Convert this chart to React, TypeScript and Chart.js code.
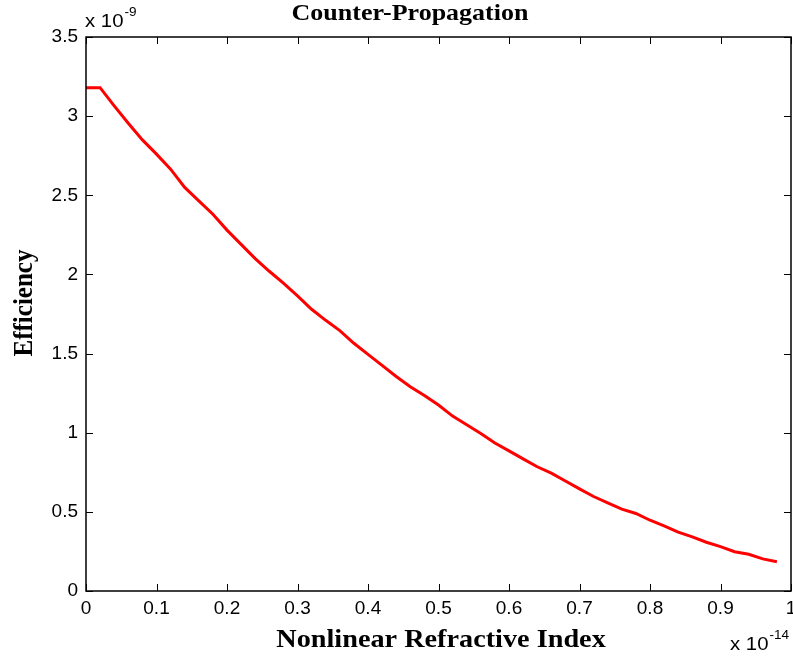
import React, { useEffect, useRef } from 'react';
import { Chart, registerables } from 'chart.js';

Chart.register(...registerables);

// x in units of 1e-14, efficiency in units of 1e-9
const nonlinearIndex = [
  0, 0.02, 0.04, 0.06, 0.08, 0.1, 0.12, 0.14, 0.16, 0.18,
  0.2, 0.22, 0.24, 0.26, 0.28, 0.3, 0.32, 0.34, 0.36, 0.38,
  0.4, 0.42, 0.44, 0.46, 0.48, 0.5, 0.52, 0.54, 0.56, 0.58,
  0.6, 0.62, 0.64, 0.66, 0.68, 0.7, 0.72, 0.74, 0.76, 0.78,
  0.8, 0.82, 0.84, 0.86, 0.88, 0.9, 0.92, 0.94, 0.96, 0.98,
];
const efficiency = [
  3.18, 3.18, 3.065, 2.955, 2.85, 2.76, 2.665, 2.55, 2.465, 2.38,
  2.28, 2.19, 2.1, 2.02, 1.945, 1.865, 1.78, 1.71, 1.645, 1.565,
  1.495, 1.425, 1.355, 1.29, 1.235, 1.175, 1.105, 1.05, 0.995, 0.935,
  0.885, 0.835, 0.785, 0.745, 0.695, 0.645, 0.597, 0.557, 0.517, 0.49,
  0.447, 0.412, 0.372, 0.342, 0.308, 0.28, 0.248, 0.232, 0.203, 0.185,
];

const xRange = [0, 1];
const xStep = 0.1;
const yRange = [0, 3.5];
const yStep = 0.5;

const titleText = 'Counter-Propagation';
const xTitle = 'Nonlinear Refractive Index';
const yTitle = 'Efficiency';
const xExponent = '-14';
const yExponent = '-9';

const STRETCH = 1.13;
const SERIF = '"Liberation Serif", "Times New Roman", serif';
const SANS = '"Liberation Sans", Arial, sans-serif';

function fmt(v: number) {
  return String(Math.round(v * 100) / 100);
}

function drawStretched(ctx: CanvasRenderingContext2D, text: string, x: number, y: number, align: CanvasTextAlign, rot = 0) {
  ctx.save();
  ctx.translate(x, y);
  ctx.scale(STRETCH, 1);
  if (rot) ctx.rotate(rot);
  ctx.textAlign = align;
  ctx.textBaseline = 'alphabetic';
  ctx.fillText(text, 0, 0);
  ctx.restore();
}

function drawExponent(ctx: CanvasRenderingContext2D, exp: string, x: number, y: number) {
  ctx.save();
  ctx.fillStyle = '#000';
  ctx.font = `18px ${SANS}`;
  const base = 'x 10';
  const w = ctx.measureText(base).width * STRETCH;
  drawStretched(ctx, base, x, y, 'left');
  ctx.font = `12px ${SANS}`;
  drawStretched(ctx, exp, x + w + 1, y - 11, 'left');
  ctx.restore();
}

const framePlugin = {
  id: 'matlabFrame',
  afterDraw(chart: any) {
    const { ctx, chartArea } = chart;
    const { left, right, top, bottom } = chartArea;
    const xs = chart.scales.x;
    const ys = chart.scales.y;
    ctx.save();
    ctx.strokeStyle = '#000';
    ctx.lineWidth = 1.5;
    ctx.strokeRect(left, top, right - left, bottom - top);
    const tl = 7;
    ctx.lineWidth = 1;
    ctx.beginPath();
    xs.ticks.forEach((t: any) => {
      const p = Math.round(xs.getPixelForValue(t.value)) + 0.5;
      ctx.moveTo(p, bottom);
      ctx.lineTo(p, bottom - tl);
      ctx.moveTo(p, top);
      ctx.lineTo(p, top + tl);
    });
    ys.ticks.forEach((t: any) => {
      const p = Math.round(ys.getPixelForValue(t.value)) + 0.5;
      ctx.moveTo(left, p);
      ctx.lineTo(left + tl, p);
      ctx.moveTo(right, p);
      ctx.lineTo(right - tl, p);
    });
    ctx.stroke();

    ctx.fillStyle = '#000';
    ctx.font = `bold 23px ${SERIF}`;
    drawStretched(ctx, titleText, 410, 20, 'center');
    ctx.font = `bold 25px ${SERIF}`;
    drawStretched(ctx, xTitle, 441, 647, 'center');
    ctx.font = `bold 25px ${SERIF}`;
    drawStretched(ctx, yTitle, 32, 303, 'center', -Math.PI / 2);

    drawExponent(ctx, yExponent, left - 1, 27);
    drawExponent(ctx, xExponent, 730, 650);
    ctx.restore();
  },
};

export default function App() {
  const canvasRef = useRef<HTMLCanvasElement | null>(null);

  useEffect(() => {
    const canvas = canvasRef.current;
    if (!canvas) return;
    const chart = new Chart(canvas, {
      type: 'line',
      data: {
        datasets: [
          {
            data: nonlinearIndex.map((x, i) => ({ x, y: efficiency[i] })),
            borderColor: '#ff0000',
            backgroundColor: '#ff0000',
            borderWidth: 3,
            pointRadius: 0,
            tension: 0,
            fill: false,
          },
        ],
      },
      options: {
        animation: false,
        responsive: false,
        devicePixelRatio: 1,
        layout: { padding: { left: 0, right: 2, top: 37, bottom: 0 } },
        plugins: {
          legend: { display: false },
          tooltip: { enabled: false },
          title: { display: false },
        },
        scales: {
          x: {
            type: 'linear',
            min: xRange[0],
            max: xRange[1],
            grid: { display: false, drawTicks: false },
            border: { display: false },
            ticks: {
              stepSize: xStep,
              autoSkip: false,
              maxRotation: 0,
              padding: 6,
              color: '#000',
              font: { family: SANS, size: 19 },
              callback: (v: any) => fmt(Number(v)),
            },
            afterFit: (scale: any) => {
              scale.height = 70;
              scale.paddingLeft = 0;
              scale.paddingRight = 0;
            },
          },
          y: {
            type: 'linear',
            min: yRange[0],
            max: yRange[1],
            grid: { display: false, drawTicks: false },
            border: { display: false },
            ticks: {
              stepSize: yStep,
              autoSkip: false,
              padding: 8,
              color: '#000',
              font: { family: SANS, size: 19 },
              callback: (v: any) => fmt(Number(v)),
            },
            afterFit: (scale: any) => {
              scale.width = 86;
              scale.paddingTop = 0;
              scale.paddingBottom = 0;
            },
          },
        },
      },
      plugins: [framePlugin],
    } as any);
    return () => chart.destroy();
  }, []);

  return (
    <div style={{ position: 'absolute', left: 0, top: 0, width: 793, height: 661, background: '#fff', overflow: 'hidden' }}>
      <canvas ref={canvasRef} width={793} height={661} style={{ display: 'block', width: 793, height: 661 }} />
    </div>
  );
}
